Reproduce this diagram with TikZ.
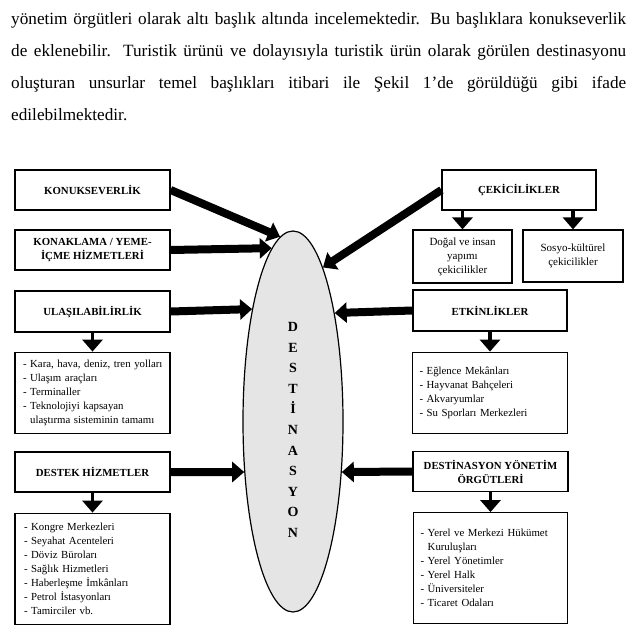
\documentclass[tikz,border=0pt]{standalone}
\usepackage{fontspec}
\setmainfont{Liberation Serif}
\usetikzlibrary{arrows.meta,shapes,positioning}

\begin{document}
\begin{tikzpicture}[
        x=1pt, y=-1pt,
        node distance=20pt,
        heading/.style={draw, line width=1.2pt, minimum width=155pt, minimum height=40pt, align=center, inner sep=2pt, font=\fontsize{10.8}{14}\selectfont\bfseries},
        listbox/.style={draw, line width=1.2pt, minimum width=155pt, text width=145pt, inner xsep=5pt, align=left, font=\fontsize{10.8}{14}\selectfont},
        subbox/.style={draw, line width=1.2pt, minimum width=99pt, minimum height=53pt, align=center, inner sep=2pt, font=\fontsize{11}{14}\selectfont},
        bigarrow/.style={line width=8pt, -{Triangle[length=12pt,width=20pt]}},
        downarrow/.style={line width=3.5pt, -{Triangle[length=12pt,width=20pt]}},
        bodyline/.style={anchor=base west, inner sep=0pt, font=\fontsize{17.2}{32}\selectfont}
    ]
    \useasboundingbox (0,0) rectangle (628,628);

    % Text above the figure
    \node[bodyline] (line1) at (11,25) {\makebox[615pt][s]{yönetim örgütleri olarak altı başlık altında incelemektedir. Bu başlıklara konukseverlik}};
    \node[bodyline] (line2) at (11,57) {\makebox[615pt][s]{de eklenebilir. Turistik ürünü ve dolayısıyla turistik ürün olarak görülen destinasyonu}};
    \node[bodyline] (line3) at (11,89) {\makebox[615pt][s]{oluşturan unsurlar temel başlıkları itibari ile Şekil 1’de görüldüğü gibi ifade}};
    \node[bodyline] (line4) at (11,121) {edilebilmektedir.};

    % Destination
    \node[ellipse, draw, line width=1.2pt, fill=black!10, minimum width=100pt, minimum height=381pt, inner sep=0pt] (dest) at (293,421.5) {};
    \node[align=center, inner sep=0pt, font=\fontsize{14}{20.6}\selectfont\bfseries] (word) at (293,430) {D\\E\\S\\T\\İ\\N\\A\\S\\Y\\O\\N};

    % Left nodes
    \node[heading] (konuk) at (92.5,190) {KONUKSEVERLİK};
    \node[heading] (konak) at (92.5,250) {KONAKLAMA / YEME-\\İÇME HİZMETLERİ};
    \node[heading, minimum height=41pt] (ulas) at (92.5,311.5) {ULAŞILABİLİRLİK};
    \node[listbox, minimum height=81pt, below=19pt of ulas] (ulaslist) {\hspace*{3pt}- Kara, hava, deniz, tren yolları\\\hspace*{3pt}- Ulaşım araçları\\\hspace*{3pt}- Terminaller\\\hspace*{3pt}- Teknolojiyi kapsayan\\\hspace*{3pt}\phantom{- }ulaştırma sisteminin tamamı};
    \node[heading] (destek) at (92.5,472) {DESTEK HİZMETLER};
    \node[listbox, minimum height=111pt, below=20pt of destek] (desteklist) {\hspace*{4pt}- Kongre Merkezleri\\\hspace*{4pt}- Seyahat Acenteleri\\\hspace*{4pt}- Döviz Büroları\\\hspace*{4pt}- Sağlık Hizmetleri\\\hspace*{4pt}- Haberleşme İmkânları\\\hspace*{4pt}- Petrol İstasyonları\\\hspace*{4pt}- Tamirciler vb.};

    % Right nodes
    \node[heading, minimum width=154pt] (cekici) at (519,190) {ÇEKİCİLİKLER};
    \node[subbox] (dogal) at (462.5,256.5) {Doğal ve insan\\yapımı\\çekicilikler};
    \node[subbox, minimum width=100pt, minimum height=52pt] (sosyo) at (573,256) {Sosyo-kültürel\\çekicilikler};
    \node[heading, minimum width=154pt, minimum height=41pt] (etkin) at (490,310.5) {ETKİNLİKLER};
    \node[listbox, minimum height=81pt, below=20pt of etkin] (etkinlist) {\hspace*{2pt}- Eğlence Mekânları\\\hspace*{2pt}- Hayvanat Bahçeleri\\\hspace*{2pt}- Akvaryumlar\\\hspace*{2pt}- Su Sporları Merkezleri};
    \node[heading] (yonetim) at (490.5,471.5) {DESTİNASYON YÖNETİM\\ÖRGÜTLERİ};
    \node[listbox, minimum width=154pt, text width=144pt, minimum height=111pt, below=20pt of yonetim] (yonetimlist) {\hspace*{2pt}- Yerel ve Merkezi Hükümet\\\hspace*{2pt}\phantom{- }Kuruluşları\\\hspace*{2pt}- Yerel Yönetimler\\\hspace*{2pt}- Yerel Halk\\\hspace*{2pt}- Üniversiteler\\\hspace*{2pt}- Ticaret Odaları};

    % Edges
    \draw[bigarrow] (konuk.east) -- (dest.94.7);
    \draw[bigarrow] (konak.east) -- (dest.97.3);
    \draw[bigarrow] (ulas.east) -- (dest.110.5);
    \draw[bigarrow] (destek.east) -- (dest.226.6);
    \draw[bigarrow] (cekici.west) -- (dest.79);
    \draw[bigarrow] (etkin.west) -- (dest.69.8);
    \draw[bigarrow] (yonetim.west) -- (dest.-46.3);
    \draw[downarrow] (ulas) -- (ulaslist);
    \draw[downarrow] (destek) -- (desteklist);
    \draw[downarrow] (cekici.south -| dogal) -- (dogal.north);
    \draw[downarrow] (cekici.south -| sosyo) -- (sosyo.north);
    \draw[downarrow] (etkin) -- (etkinlist);
    \draw[downarrow] (yonetim) -- (yonetimlist);

\end{tikzpicture}
\end{document}
